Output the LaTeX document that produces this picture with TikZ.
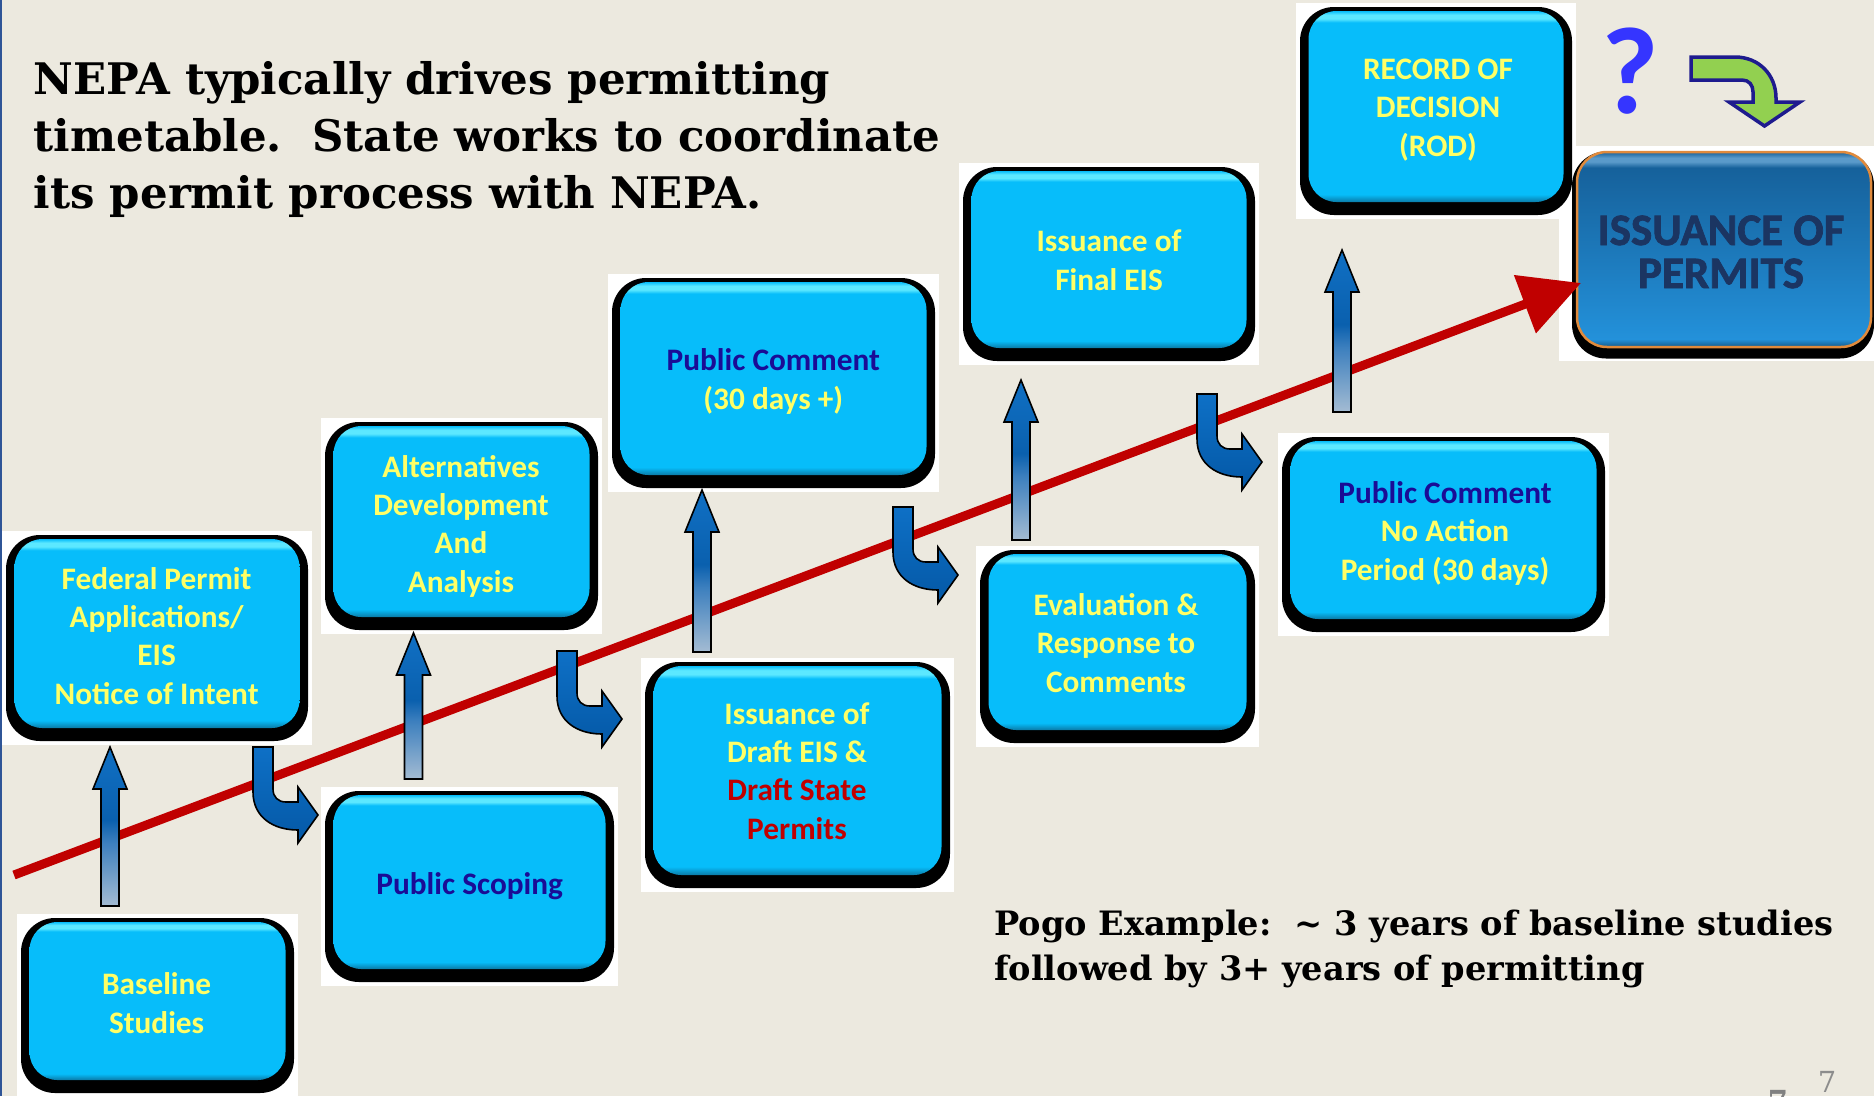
\documentclass[tikz,border=0pt]{standalone}
\usepackage{fontspec}
\setmainfont{Carlito}
\newfontfamily\serifbold{DejaVu Serif}
\newfontfamily\heavysans{Carlito Bold}[FakeBold=1.6]
\usetikzlibrary{arrows.meta,calc}
\definecolor{bgc}{HTML}{ECE9DF}
\definecolor{leftblue}{HTML}{2F5597}
\definecolor{cymain}{HTML}{07BDFA}
\definecolor{cyhi}{HTML}{5CE8FF}
\definecolor{cydark}{HTML}{0A7AA6}
\definecolor{txtyel}{HTML}{FFFF66}
\definecolor{txtblue}{HTML}{1A0C96}
\definecolor{txtred}{HTML}{C00000}
\definecolor{redline}{HTML}{C00000}
\definecolor{arrtop}{HTML}{0E70C6}
\definecolor{arrbot}{HTML}{0458A6}
\definecolor{uplight}{HTML}{A4BCD3}
\definecolor{upmid}{HTML}{3C7FBE}
\definecolor{updark}{HTML}{0A60AE}
\definecolor{uptop}{HTML}{1070C4}
\definecolor{permtop}{HTML}{16619B}
\definecolor{permbot}{HTML}{2391DA}
\definecolor{permhi}{HTML}{5A9ACA}
\definecolor{permdk}{HTML}{145A8A}
\definecolor{permtxt}{HTML}{1B3562}
\definecolor{permedge}{HTML}{E08A3C}
\definecolor{qblue}{HTML}{3535FF}
\definecolor{gfill}{HTML}{92D050}
\definecolor{gedge}{HTML}{1E1B8E}
\definecolor{pggray}{HTML}{8C8C8C}
\pgfdeclareverticalshading{cyshade}{100bp}{color(0bp)=(cydark); color(25bp)=(cydark); color(27bp)=(cymain); color(72bp)=(cymain); color(73bp)=(cyhi); color(74bp)=(cyhi); color(75bp)=(cymain); color(100bp)=(cymain)}
\pgfdeclareverticalshading{permshade}{100bp}{color(0bp)=(permdk); color(25bp)=(permdk); color(27bp)=(permbot); color(71bp)=(permtop); color(72.5bp)=(permhi); color(73.5bp)=(permhi); color(75bp)=(permtop); color(100bp)=(permtop)}
\pgfdeclareverticalshading{upshade}{100bp}{color(0bp)=(uplight); color(25bp)=(uplight); color(45bp)=(upmid); color(52bp)=(updark); color(75bp)=(uptop); color(100bp)=(uptop)}
\tikzset{
  whitebg/.style={fill=white, draw=none, inner sep=0pt, outer sep=0pt},
  shadowbox/.style={fill=black, rounded corners=34pt, inner sep=0pt, outer sep=0pt, draw=none},
  cybox/.style={shade, shading=cyshade, rounded corners=28pt, inner sep=0pt, outer sep=0pt, draw=none},
  permbox/.style={shade, shading=permshade, rounded corners=30pt, inner sep=0pt, outer sep=0pt, draw=permedge, line width=2.5pt},
  boxtext/.style={font=\bfseries\fontsize{31.3}{38.3}\selectfont, align=center, anchor=base, inner sep=0pt, text=txtyel},
  permtext/.style={font=\heavysans\fontsize{45}{43}\selectfont, align=center, anchor=base, inner sep=0pt, text=permtxt},
  uparrowst/.style={shade, shading=upshade, draw=black, line width=1.6pt, line join=miter},
  bentst/.style={top color=arrtop, bottom color=arrbot, draw=black, line width=1.6pt, line join=miter},
  redarrow/.style={draw=redline, line width=9pt, -{Triangle[length=60pt,width=60pt]}},
  greenarrow/.style={fill=gfill, draw=gedge, line width=3.5pt, line join=miter},
  bigtext/.style={anchor=base west, align=left, inner sep=0pt, text=black}
}
\newcommand\uparr[1]{\path[uparrowst] (#1t) -- ++(17,42) -- ++(-8,0) -- ($(#1b)+(9,0)$) -- ($(#1b)+(-9,0)$) -- ($(#1t)+(-9,42)$) -- ++(-8,0) -- cycle;}
\newcommand\bentarr[1]{\path[bentst, shift={(#1)}] (0,0) -- (20,0) -- (20,42) .. controls (20,50) and (25,55) .. (33,55) -- (45,55) -- (45,40) -- (65,68) -- (45,96) -- (45,83) .. controls (20,83) and (0,70) .. (0,45) -- cycle;}
\begin{document}
\begin{tikzpicture}[x=1pt,y=-1pt]
\fill[bgc] (0,0) rectangle (1874,1096);
\useasboundingbox (0,0) rectangle (1874,1096);
\draw[leftblue, line width=2.4pt] (1.2,0) -- (1.2,1096);

% title (base anchor = last line baseline)
\node[bigtext, font=\serifbold\bfseries\fontsize{43.5}{57}\selectfont] (title) at (33.5,208)
  {NEPA typically drives permitting\\timetable.\ \ State works to coordinate\\its permit process with NEPA.};

% white backgrounds
\foreach \n/\xa/\ya/\xb/\yb in {fed/6/535/308/741, base/21/918/294/1093, alt/325/422/598/630, scop/325/791/614/982, pcone/612/278/935/488, draft/645/662/950/888, final/963/167/1255/361, eval/980/550/1255/743, rod/1300/7/1572/215, pctwo/1282/437/1605/632}
  {\node[whitebg, minimum width={\xb-\xa+8}, minimum height={\yb-\ya+8}] (\n-bg) at ({(\xa+\xb)/2},{(\ya+\yb)/2}) {};}
\node[whitebg, minimum width=315, minimum height=215] (perm-bg) at (1716.5,253.5) {};

% boxes
\foreach \n/\xa/\ya/\xb/\yb in {fed/6/535/308/741, base/21/918/294/1093, alt/325/422/598/630, scop/325/791/614/982, pcone/612/278/935/488, draft/645/662/950/888, final/963/167/1255/361, eval/980/550/1255/743, rod/1300/7/1572/215, pctwo/1282/437/1605/632}
  {\node[shadowbox, minimum width={\xb-\xa}, minimum height={\yb-\ya}] (\n-sh) at ({(\xa+\xb)/2},{(\ya+\yb)/2}) {};
   \node[cybox, minimum width={\xb-\xa-17}, minimum height={\yb-\ya-17}] (\n) at ({(\xa+\xb)/2},{(\ya+\yb)/2-4.5}) {};}
\node[shadowbox, minimum width=302, minimum height=207] (perm-sh) at (1723,255) {};
\node[permbox, minimum width=294, minimum height=195] (perm) at (1724,249.5) {};

% box texts (base anchor = baseline of last line)
\node[boxtext] (fed-t) at (156.6,704) {Federal Permit\\Applications/\\EIS\\Notice of Intent};
\node[boxtext] (base-t) at (156.6,1033) {Baseline\\Studies};
\node[boxtext] (alt-t) at (461,592) {Alternatives\\Development\\And\\Analysis};
\node[boxtext, text=txtblue] (scop-t) at (469.7,894) {Public Scoping};
\node[boxtext] (pcone-t) at (773.3,409) {\textcolor{txtblue}{Public Comment}\\(30 days +)};
\node[boxtext] (draft-t) at (797,839) {Issuance of\\Draft EIS \&\\\textcolor{txtred}{Draft State}\\\textcolor{txtred}{Permits}};
\node[boxtext] (final-t) at (1109,290) {Issuance of\\Final EIS};
\node[boxtext] (eval-t) at (1116,692) {Evaluation \&\\Response to\\Comments};
\node[boxtext] (rod-t) at (1438,156) {RECORD OF\\DECISION\\(ROD)};
\node[boxtext] (pctwo-t) at (1445,580) {\textcolor{txtblue}{Public Comment}\\No Action\\Period (30 days)};
\node[permtext] (perm-t) at (1721,288) {ISSUANCE OF\\PERMITS};

% red timeline arrow
\coordinate (rs) at (14,875);
\coordinate (re) at (1581,283);
\draw[redarrow] (rs) -- (re);

% up arrows
\coordinate (uat) at (110,747);    \coordinate (uab) at (110,906);
\coordinate (ubt) at (413.5,633);  \coordinate (ubb) at (413.5,779);
\coordinate (uct) at (702,490);    \coordinate (ucb) at (702,652);
\coordinate (udt) at (1021,380);   \coordinate (udb) at (1021,540);
\coordinate (uet) at (1342,250);   \coordinate (ueb) at (1342,412);
\uparr{ua}\uparr{ub}\uparr{uc}\uparr{ud}\uparr{ue}

% bent arrows
\coordinate (ba) at (253,747);
\coordinate (bb) at (557,651);
\coordinate (bc) at (893,507);
\coordinate (bd) at (1197,394);
\bentarr{ba}\bentarr{bb}\bentarr{bc}\bentarr{bd}

% question mark and green arrow
\node[font=\bfseries\fontsize{124}{124}\selectfont, text=qblue, anchor=base, inner sep=0pt] (qmark) at (1630,113) {?};
\path[greenarrow] (1691,57) -- (1735,57) .. controls (1759,57) and (1776,75) .. (1776,98) -- (1776,102) -- (1800,102) -- (1764.5,126) -- (1729,102) -- (1753,102) -- (1753,92) .. controls (1753,85) and (1749,80) .. (1742,80) -- (1691,80) -- cycle;

% bottom text
\node[bigtext, font=\serifbold\bfseries\fontsize{33.6}{45}\selectfont] (pogo) at (994,980)
  {Pogo Example:\ \ \textasciitilde\ 3 years of baseline studies\\followed by 3+ years of permitting};

% page numbers
\node[font=\serifbold\fontsize{29}{29}\selectfont, text=pggray, anchor=base, inner sep=0pt] (pgnum) at (1827,1092) {7};
\node[font=\serifbold\bfseries\fontsize{29}{29}\selectfont, text=gray, anchor=base, inner sep=0pt] (pgnumb) at (1778,1111) {7};
\end{tikzpicture}
\end{document}
